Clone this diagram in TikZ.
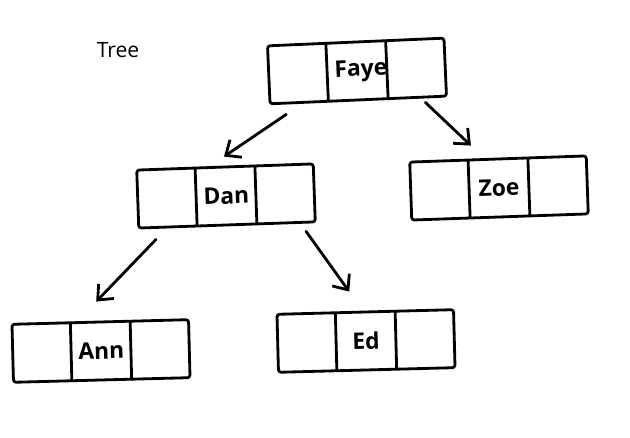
\documentclass[tikz,border=0pt]{standalone}
\usepackage{fontspec}
\setsansfont{Open Sans}
\usetikzlibrary{shapes.multipart,arrows.meta,positioning}

\newcommand{\nm}[1]{\raisebox{-4pt}{#1}}

\tikzset{
  listbox/.style={rectangle split, rectangle split horizontal, rectangle split parts=3,
    draw, line width=1.6pt, line join=round, rounded corners=1.5pt,
    text width=0.9cm, inner xsep=0.12cm, minimum height=1.16cm, align=center,
    font=\sffamily\bfseries\fontsize{13}{16}\selectfont},
  arr/.style={-{Straight Barb[length=7pt,width=12pt,line width=1.6pt]}, line width=1.6pt, line cap=round}
}

\begin{document}
\begin{tikzpicture}
        \useasboundingbox (0,0) rectangle (12.6,8.76);
        %Title
        \node[font=\sffamily\fontsize{12}{14}\selectfont] (title) at (2.36,7.76) {Tree};
        %Boxes
        \node[listbox, rotate=2.5] (faye) at (7.14,7.34) {\strut\nodepart{two}\nm{Faye}\nodepart{three}\strut};
        \node[listbox, rotate=2] (dan) at (4.52,4.84) {\strut\nodepart{two}\nm{Dan}\nodepart{three}\strut};
        \node[listbox, rotate=2] (zoe) at (9.98,5.00) {\strut\nodepart{two}\nm{Zoe}\nodepart{three}\strut};
        \node[listbox, rotate=1.5] (ann) at (2.02,1.74) {\strut\nodepart{two}\nm{Ann}\nodepart{three}\strut};
        \node[listbox, rotate=1.5] (ed) at (7.32,1.94) {\strut\nodepart{two}\nm{Ed}\nodepart{three}\strut};
        %Arrows
        \draw[arr] ([xshift=-1.44cm,yshift=-0.26cm]faye.south) -- ([xshift=-0.02cm,yshift=0.18cm]dan.north);
        \draw[arr] ([xshift=1.34cm,yshift=-0.02cm]faye.south) -- ([xshift=-0.54cm,yshift=0.24cm]zoe.north);
        \draw[arr] ([xshift=-1.42cm,yshift=-0.26cm]dan.south) -- ([xshift=-0.08cm,yshift=0.38cm]ann.north);
        \draw[arr] ([xshift=1.58cm,yshift=-0.1cm]dan.south) -- ([xshift=-0.32cm,yshift=0.38cm]ed.north);
\end{tikzpicture}
\end{document}
